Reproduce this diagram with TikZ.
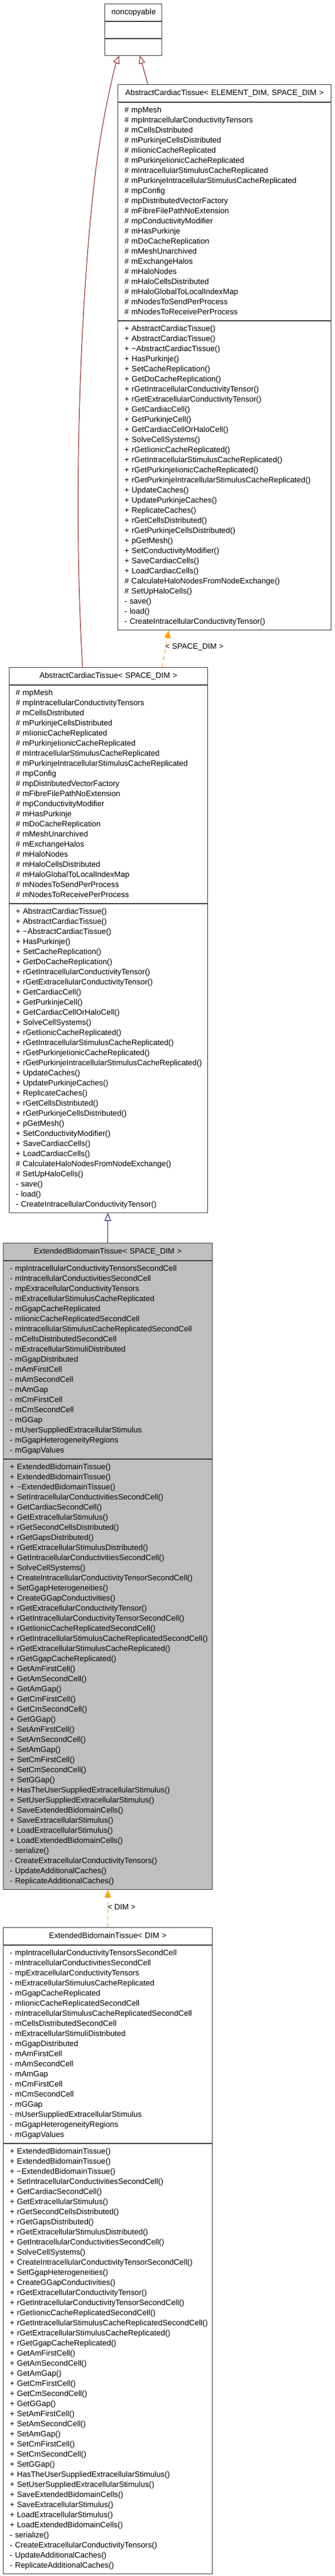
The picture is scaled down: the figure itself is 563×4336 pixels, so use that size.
\documentclass[tikz,border=0pt]{standalone}
\usepackage{fontspec}
\setmainfont{Liberation Sans}
\usepackage{tikz}
\usetikzlibrary{arrows.meta}
\usetikzlibrary{positioning}
\definecolor{inhred}{HTML}{8B1A1A}
\definecolor{inhblue}{HTML}{191970}
\definecolor{tmplorange}{HTML}{FFA500}
\newcommand{\boxfont}{\fontsize{13.2}{17}\selectfont\hyphenpenalty=10000\exhyphenpenalty=10000}

\newcommand{\actattrs}{\#~mpMesh\\ \#~mpIntracellularConductivityTensors\\ \#~mCellsDistributed\\ \#~mPurkinjeCellsDistributed\\ \#~mIionicCacheReplicated\\ \#~mPurkinjeIionicCacheReplicated\\ \#~mIntracellularStimulusCacheReplicated\\ \#~mPurkinjeIntracellularStimulusCacheReplicated\\ \#~mpConfig\\ \#~mpDistributedVectorFactory\\ \#~mFibreFilePathNoExtension\\ \#~mpConductivityModifier\\ \#~mHasPurkinje\\ \#~mDoCacheReplication\\ \#~mMeshUnarchived\\ \#~mExchangeHalos\\ \#~mHaloNodes\\ \#~mHaloCellsDistributed\\ \#~mHaloGlobalToLocalIndexMap\\ \#~mNodesToSendPerProcess\\ \#~mNodesToReceivePerProcess}
\newcommand{\actmethods}{+~AbstractCardiacTissue()\\ +~AbstractCardiacTissue()\\ +~\textasciitilde AbstractCardiacTissue()\\ +~HasPurkinje()\\ +~SetCacheReplication()\\ +~GetDoCacheReplication()\\ +~rGetIntracellularConductivityTensor()\\ +~rGetExtracellularConductivityTensor()\\ +~GetCardiacCell()\\ +~GetPurkinjeCell()\\ +~GetCardiacCellOrHaloCell()\\ +~SolveCellSystems()\\ +~rGetIionicCacheReplicated()\\ +~rGetIntracellularStimulusCacheReplicated()\\ +~rGetPurkinjeIionicCacheReplicated()\\ +~rGetPurkinjeIntracellularStimulusCacheReplicated()\\ +~UpdateCaches()\\ +~UpdatePurkinjeCaches()\\ +~ReplicateCaches()\\ +~rGetCellsDistributed()\\ +~rGetPurkinjeCellsDistributed()\\ +~pGetMesh()\\ +~SetConductivityModifier()\\ +~SaveCardiacCells()\\ +~LoadCardiacCells()\\ \#~CalculateHaloNodesFromNodeExchange()\\ \#~SetUpHaloCells()\\ -~save()\\ -~load()\\ -~CreateIntracellularConductivityTensor()}
\newcommand{\ebtattrs}{-~mpIntracellularConductivityTensorsSecondCell\\ -~mIntracellularConductivitiesSecondCell\\ -~mpExtracellularConductivityTensors\\ -~mExtracellularStimulusCacheReplicated\\ -~mGgapCacheReplicated\\ -~mIionicCacheReplicatedSecondCell\\ -~mIntracellularStimulusCacheReplicatedSecondCell\\ -~mCellsDistributedSecondCell\\ -~mExtracellularStimuliDistributed\\ -~mGgapDistributed\\ -~mAmFirstCell\\ -~mAmSecondCell\\ -~mAmGap\\ -~mCmFirstCell\\ -~mCmSecondCell\\ -~mGGap\\ -~mUserSuppliedExtracellularStimulus\\ -~mGgapHeterogeneityRegions\\ -~mGgapValues}
\newcommand{\ebtmethods}{+~ExtendedBidomainTissue()\\ +~ExtendedBidomainTissue()\\ +~\textasciitilde ExtendedBidomainTissue()\\ +~SetIntracellularConductivitiesSecondCell()\\ +~GetCardiacSecondCell()\\ +~GetExtracellularStimulus()\\ +~rGetSecondCellsDistributed()\\ +~rGetGapsDistributed()\\ +~rGetExtracellularStimulusDistributed()\\ +~GetIntracellularConductivitiesSecondCell()\\ +~SolveCellSystems()\\ +~CreateIntracellularConductivityTensorSecondCell()\\ +~SetGgapHeterogeneities()\\ +~CreateGGapConductivities()\\ +~rGetExtracellularConductivityTensor()\\ +~rGetIntracellularConductivityTensorSecondCell()\\ +~rGetIionicCacheReplicatedSecondCell()\\ +~rGetIntracellularStimulusCacheReplicatedSecondCell()\\ +~rGetExtracellularStimulusCacheReplicated()\\ +~rGetGgapCacheReplicated()\\ +~GetAmFirstCell()\\ +~GetAmSecondCell()\\ +~GetAmGap()\\ +~GetCmFirstCell()\\ +~GetCmSecondCell()\\ +~GetGGap()\\ +~SetAmFirstCell()\\ +~SetAmSecondCell()\\ +~SetAmGap()\\ +~SetCmFirstCell()\\ +~SetCmSecondCell()\\ +~SetGGap()\\ +~HasTheUserSuppliedExtracellularStimulus()\\ +~SetUserSuppliedExtracellularStimulus()\\ +~SaveExtendedBidomainCells()\\ +~SaveExtracellularStimulus()\\ +~LoadExtracellularStimulus()\\ +~LoadExtendedBidomainCells()\\ -~serialize()\\ -~CreateExtracellularConductivityTensors()\\ -~UpdateAdditionalCaches()\\ -~ReplicateAdditionalCaches()}

\tikzset{
	%	cpart/.style={rectangle split, rectangle split parts=3, draw},
	cpart/.style={draw=black!75, line width=1pt, inner xsep=11pt, inner ysep=5pt, font=\boxfont, align=left, execute at begin node=\strut, execute at end node=\strut},
	ctitle/.style={cpart, inner ysep=6pt, align=center},
	inh/.style={-{Triangle[open, length=13pt, width=11pt]}, line width=1pt},
	tmpl/.style={-{Triangle[length=13pt, width=11pt]}, line width=1pt, tmplorange, dash pattern=on 7pt off 5pt}
}

\begin{document}
\begin{tikzpicture}[x=1pt, y=-1pt]
\useasboundingbox (0,0) rectangle (563,4336);
\fill[white] (0,0) rectangle (563,4336);

\node[ctitle, text width=74pt, anchor=north west] (ncT) at (176,6) {noncopyable};
\node[cpart, text width=74pt, minimum height=28pt, below=0pt of ncT] (ncA) {};
\node[cpart, text width=74pt, minimum height=28pt, below=0pt of ncA] (ncM) {};

\node[ctitle, text width=337pt, anchor=north west] (acteT) at (198,142) {AbstractCardiacTissue< ELEMENT\_DIM, SPACE\_DIM >};
\node[cpart, text width=337pt, below=0pt of acteT] (acteA) {\actattrs};
\node[cpart, text width=337pt, below=0pt of acteA] (acteM) {\actmethods};

\node[ctitle, text width=312pt, anchor=north west] (actsT) at (15,1123) {AbstractCardiacTissue< SPACE\_DIM >};
\node[cpart, text width=312pt, below=0pt of actsT] (actsA) {\actattrs};
\node[cpart, text width=312pt, below=0pt of actsA] (actsM) {\actmethods};

\node[ctitle, fill=black!25, text width=330pt, anchor=north west] (ebtsT) at (5,2092) {ExtendedBidomainTissue< SPACE\_DIM >};
\node[cpart, fill=black!25, text width=330pt, below=0pt of ebtsT] (ebtsA) {\ebtattrs};
\node[cpart, fill=black!25, text width=330pt, below=0pt of ebtsA] (ebtsM) {\ebtmethods};

\node[ctitle, text width=330pt, anchor=north west] (ebtdT) at (5,3244) {ExtendedBidomainTissue< DIM >};
\node[cpart, text width=330pt, below=0pt of ebtdT] (ebtdA) {\ebtattrs};
\node[cpart, text width=330pt, below=0pt of ebtdA] (ebtdM) {\ebtmethods};

\node[anchor=west, font=\boxfont, inner sep=0pt] (lblS) at (278,1089) {< SPACE\_DIM >};
\node[anchor=west, font=\boxfont, inner sep=0pt] (lblD) at (181,3210) {< DIM >};

\draw[inh, inhred] ([xshift=51pt]acteT.north west) -- ([xshift=11pt]ncM.south);
\draw[inh, inhred] ([xshift=124pt]actsT.north west) .. controls (120,800) and (140,450) .. (162,280) .. controls (172,203) and (192,115) .. ([xshift=-24pt]ncM.south);
\draw[tmpl] ([xshift=258pt]actsT.north west) -- ([xshift=86pt]acteM.south west);
\draw[inh, inhblue] (ebtsT.north) -- (ebtsT.north |- actsM.south);
\draw[tmpl] (ebtdT.north) -- (ebtdT.north |- ebtsM.south);
\end{tikzpicture}
\end{document}
